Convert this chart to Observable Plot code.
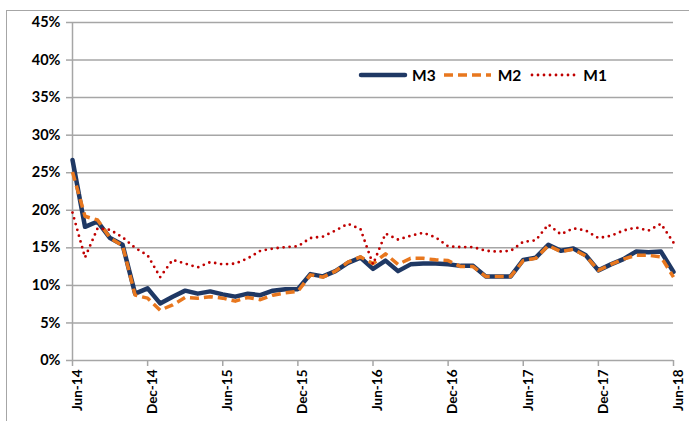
<!DOCTYPE html>
<html>
<head>
<meta charset="utf-8">
<script src="https://cdn.jsdelivr.net/npm/d3@7"></script>
<script src="https://cdn.jsdelivr.net/npm/@observablehq/plot@0.6"></script>
<style>
  body { margin: 0; background: #fff; font-family: Lato, "Open Sans", sans-serif; }
  #wrap { position: relative; width: 689px; height: 421px; overflow: hidden; }
  #border { position: absolute; left: 6px; top: 10px; width: 720px; height: 440px;
            border-left: 1.5px solid #a6a6a6; border-top: 1.5px solid #a6a6a6; }
  #legend { position: absolute; left: 358px; top: 66px; display: flex; align-items: center;
            font-weight: 700; font-size: 15.5px; color: #000; }
  #legend span { margin: 0 8px 0 4px; }
</style>
</head>
<body>
<div id="wrap">
  <div id="border"></div>
  <div id="chart"></div>
  <div id="legend"></div>
</div>
<script>
// monthly points, Jun-14 .. Jun-18
const months = [
  "Jun-14","Jul-14","Aug-14","Sep-14","Oct-14","Nov-14","Dec-14",
  "Jan-15","Feb-15","Mar-15","Apr-15","May-15","Jun-15","Jul-15","Aug-15","Sep-15","Oct-15","Nov-15","Dec-15",
  "Jan-16","Feb-16","Mar-16","Apr-16","May-16","Jun-16","Jul-16","Aug-16","Sep-16","Oct-16","Nov-16","Dec-16",
  "Jan-17","Feb-17","Mar-17","Apr-17","May-17","Jun-17","Jul-17","Aug-17","Sep-17","Oct-17","Nov-17","Dec-17",
  "Jan-18","Feb-18","Mar-18","Apr-18","May-18","Jun-18"
];

const m3 = [26.7, 17.8, 18.5, 16.3, 15.4, 8.9, 9.6, 7.6, 8.5, 9.3, 8.9, 9.2, 8.8,
  8.5, 8.9, 8.7, 9.3, 9.5, 9.5, 11.5, 11.2, 11.9, 13.0, 13.7, 12.2,
  13.3, 11.9, 12.8, 12.9, 12.9, 12.8, 12.6, 12.6, 11.2, 11.2, 11.2, 13.4,
  13.7, 15.4, 14.6, 14.9, 14.0, 12.0, 12.8, 13.5, 14.5, 14.4, 14.5, 11.8];

const m2 = [25.1, 19.2, 18.7, 16.3, 15.3, 8.7, 8.3, 6.7, 7.4, 8.4, 8.3, 8.5, 8.3,
  7.9, 8.4, 8.1, 8.7, 9.0, 9.2, 11.4, 11.1, 11.9, 13.1, 13.8, 12.9,
  14.2, 12.8, 13.6, 13.6, 13.4, 13.3, 12.5, 12.5, 11.2, 11.2, 11.2, 13.3,
  13.6, 15.3, 14.5, 14.8, 13.9, 12.0, 12.8, 13.5, 14.0, 14.0, 13.8, 11.1];

const m1 = [19.7, 13.7, 17.6, 17.4, 16.4, 15.0, 14.0, 11.1, 13.4, 12.9, 12.4, 13.1, 12.8,
  12.9, 13.6, 14.6, 14.9, 15.1, 15.2, 16.3, 16.5, 17.3, 18.2, 17.5, 12.8,
  16.9, 16.1, 16.6, 17.0, 16.4, 15.2, 15.1, 15.1, 14.6, 14.5, 14.6, 15.8,
  16.0, 18.1, 16.8, 17.6, 17.3, 16.3, 16.6, 17.3, 17.7, 17.3, 18.2, 15.7];

const tickLabels = ["Jun-14","Dec-14","Jun-15","Dec-15","Jun-16","Dec-16","Jun-17","Dec-17","Jun-18"];
const yTicks = [0, 5, 10, 15, 20, 25, 30, 35, 40, 45];

const series = [
  {name: "M3", values: m3, stroke: "#1f3864", width: 4.5, dash: null, cap: "round"},
  {name: "M2", values: m2, stroke: "#e8771e", width: 3.5, dash: "9,5", cap: "butt"},
  {name: "M1", values: m1, stroke: "#c00000", width: 2.8, dash: "0,6", cap: "round"}
];

const rows = series.flatMap(s => s.values.map((v, i) => ({series: s.name, month: months[i], i, v})));

const gray = "#a6a6a6";
const xTicks = tickLabels.map(l => months.indexOf(l));

let chart = Plot.plot({
  width: 689,
  height: 421,
  marginLeft: 72,
  marginRight: 16,
  marginTop: 22,
  marginBottom: 61,
  style: {
    "background-color": "transparent",
    "font-family": "Lato, 'Open Sans', sans-serif",
    color: "#000",
    overflow: "visible"
  },
  x: {domain: [0, months.length - 1]},
  y: {domain: [0, 45]},
  marks: [
    Plot.gridY(yTicks.slice(1), {stroke: gray, strokeOpacity: 1, strokeWidth: 1.5}),
    Plot.axisY(yTicks, {
      tickFormat: d => d + "%",
      tickSize: 6,
      tickPadding: 6,
      stroke: gray,
      strokeWidth: 1.5,
      fontSize: 14.5,
      fontWeight: "bold",
      label: null
    }),
    // tick marks only
    Plot.axisX(xTicks, {
      tickFormat: () => "",
      tickSize: 6,
      stroke: gray,
      strokeWidth: 1.5,
      label: null
    }),
    // rotated labels, nudged right of the tick like the original
    Plot.axisX(xTicks, {
      tickFormat: d => months[d],
      tickRotate: -90,
      tickSize: 0,
      tickPadding: 9,
      fontSize: 13.5,
      fontWeight: "bold",
      dx: 5,
      label: null
    }),
    Plot.ruleX([0], {stroke: gray, strokeWidth: 1.5}),
    Plot.ruleY([0], {stroke: gray, strokeWidth: 1.5}),
    ...series.map(s => Plot.line(rows.filter(r => r.series === s.name), {
      x: "i",
      y: "v",
      stroke: s.stroke,
      strokeWidth: s.width,
      strokeDasharray: s.dash,
      strokeLinecap: s.cap,
      strokeLinejoin: "round"
    }))
  ]
});

d3.select("#chart").append(() => chart);

// legend
const legend = d3.select("#legend");
series.forEach(s => {
  const sw = legend.append("svg").attr("width", 50).attr("height", 10);
  sw.append("line")
    .attr("x1", s.cap === "round" ? 3 : 0).attr("x2", 47).attr("y1", 5).attr("y2", 5)
    .attr("stroke", s.stroke).attr("stroke-width", s.width)
    .attr("stroke-dasharray", s.dash).attr("stroke-linecap", s.cap);
  legend.append("span").text(s.name);
});
</script>
</body>
</html>
